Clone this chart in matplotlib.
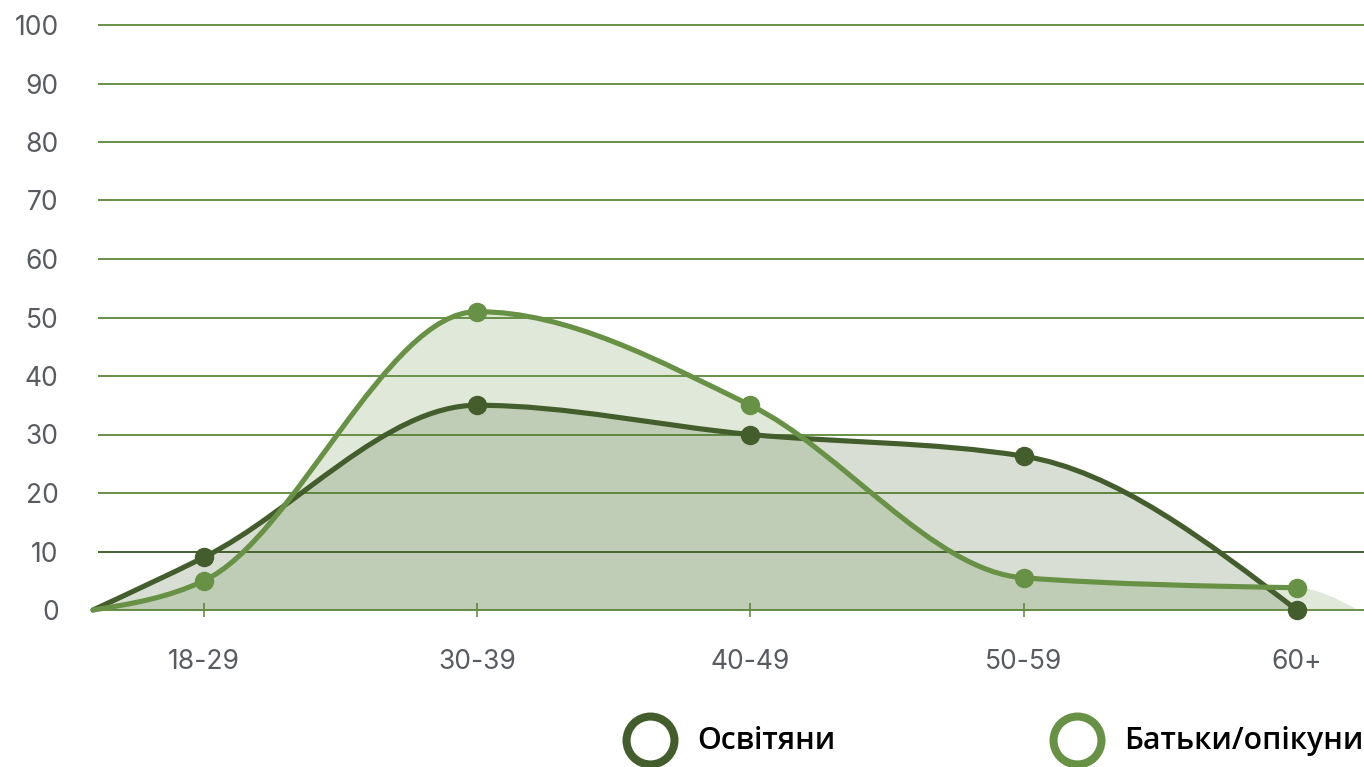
import numpy as np
import matplotlib.pyplot as plt
from matplotlib.path import Path
from matplotlib.patches import PathPatch
from matplotlib.lines import Line2D

# chart data
categories = ['18-29', '30-39', '40-49', '50-59', '60+']
educators = [9, 35, 30, 26.3, 0]
parents = [5, 51, 35, 5.5, 3.8]
y_ticks = list(range(0, 101, 10))
series_names = ['Освітяни', 'Батьки/опікуни']

# curves start at zero left of the first category, fills fade out after the last one
LEAD_X = -0.406
TAIL_X = 4.224

DARK = '#435e2c'
LIGHT = '#679144'
TICK_COLOR = '#585b60'

W, H = 1364, 767
fig = plt.figure(figsize=(W / 100, H / 100), dpi=100)
ax = fig.add_axes([99 / W, 1 - 610 / H, 1265 / W, 585 / H])
ax.set_xlim(-0.384, 4.246)
ax.set_ylim(0, 100)


def sgn(v):
    return -1.0 if v < 0 else 1.0


def monotone_tangents(xs, ys):
    # same rule as d3.curveMonotoneX
    xs, ys = np.asarray(xs, float), np.asarray(ys, float)
    h = np.diff(xs)
    s = np.diff(ys) / h
    t = np.zeros(len(xs))
    for i in range(1, len(xs) - 1):
        p = (s[i - 1] * h[i] + s[i] * h[i - 1]) / (h[i - 1] + h[i])
        t[i] = (sgn(s[i - 1]) + sgn(s[i])) * min(abs(s[i - 1]), abs(s[i]), 0.5 * abs(p))
    t[0] = (3 * s[0] - t[1]) / 2
    t[-1] = (3 * s[-1] - t[-2]) / 2
    return t


def bezier(xs, ys, ts):
    verts = [(xs[0], ys[0])]
    codes = [Path.MOVETO]
    for i in range(len(xs) - 1):
        h = xs[i + 1] - xs[i]
        verts += [(xs[i] + h / 3, max(ys[i] + ts[i] * h / 3, 0)),
                  (xs[i + 1] - h / 3, max(ys[i + 1] - ts[i + 1] * h / 3, 0)),
                  (xs[i + 1], ys[i + 1])]
        codes += [Path.CURVE4] * 3
    return verts, codes


idx = list(range(len(categories)))
series = [(parents, LIGHT, 3), (educators, DARK, 2)]

# grid
for y in y_ticks:
    ax.axhline(y, color=DARK if y == 10 else LIGHT, lw=1.4, zorder=1, clip_on=False)

for vals, col, z in series:
    xs = [LEAD_X] + idx
    ys = [0] + vals
    ts = list(monotone_tangents(xs, ys))
    # fill: line curve plus a short tail down to zero
    h = TAIL_X - xs[-1]
    tail_t = (3 * (0 - ys[-1]) / h - ts[-1]) / 2
    v, c = bezier(xs + [TAIL_X], ys + [0], ts + [tail_t])
    v = v + [(LEAD_X, 0), (LEAD_X, 0)]
    c = c + [Path.LINETO, Path.CLOSEPOLY]
    ax.add_patch(PathPatch(Path(v, c), facecolor=col, alpha=0.2, lw=0, zorder=2))
    # line + points
    v, c = bezier(xs, ys, ts)
    ax.add_patch(PathPatch(Path(v, c), facecolor='none', edgecolor=col, lw=3.7,
                           capstyle='round', zorder=4 + z, clip_on=False))
    ax.plot(idx, vals, 'o', ms=13, color=col, zorder=6 + z, clip_on=False)

for s in ax.spines.values():
    s.set_visible(False)

ax.set_xticks(idx, categories)
ax.set_yticks(y_ticks, [str(y) for y in y_ticks])
ax.tick_params(axis='x', direction='inout', length=10, width=1.2, color=LIGHT, pad=23,
               labelsize=19, labelcolor=TICK_COLOR)
ax.tick_params(axis='y', length=0, pad=29, labelsize=19, labelcolor=TICK_COLOR)
for lab in ax.get_xticklabels() + ax.get_yticklabels():
    lab.set_fontfamily('Inter')

# legend
legend_pos = [(650, 697), (1077, 1124)]
for (cx, tx), name, col in zip(legend_pos, series_names, [DARK, LIGHT]):
    fig.add_artist(Line2D([cx / W], [1 - 740 / H], transform=fig.transFigure, marker='o',
                          ms=34.5, mfc='none', mec=col, mew=5.8, ls='none'))
    fig.text(tx / W, 1 - 741 / H, name, fontsize=21.8, fontweight='semibold',
             family='Open Sans', color='black', va='center', ha='left')

fig.savefig('out.png', dpi=100)
